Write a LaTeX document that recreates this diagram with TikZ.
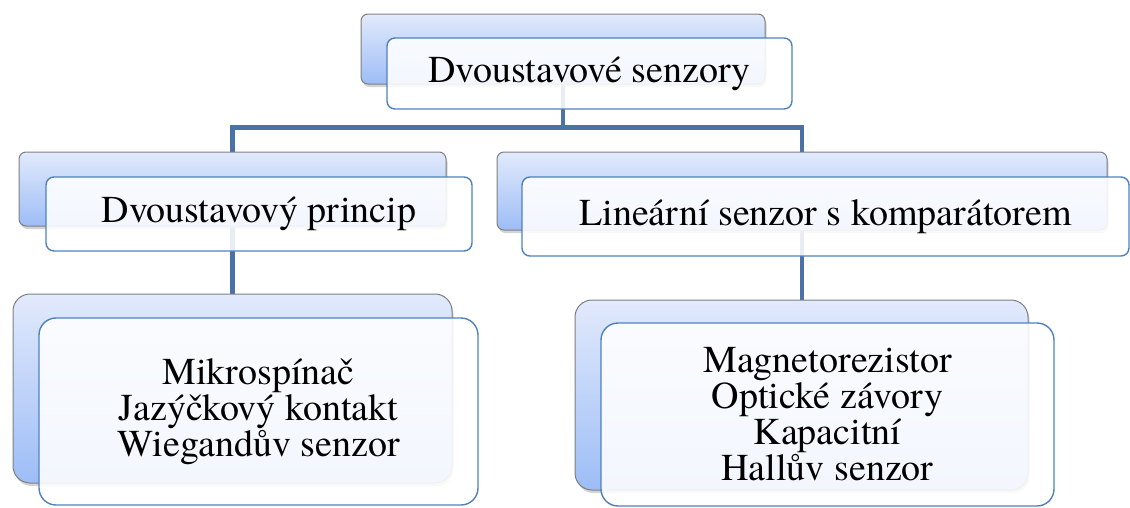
\documentclass[tikz,border=0pt]{standalone}
\usepackage{fontspec}
\setmainfont{texgyretermes-regular.otf}
\usetikzlibrary{shadows}
\pgfdeclarelayer{bg}
\pgfsetlayers{bg,main}
\definecolor{connblue}{HTML}{4A72A8}
\definecolor{frontedge}{HTML}{4F81BD}
\definecolor{backedge}{HTML}{7F7F7F}
\definecolor{backtop}{HTML}{E2EAFC}
\definecolor{backbot}{HTML}{9DBDF6}
\tikzset{
  backbox/.style={rectangle, rounded corners=7pt, draw=backedge, line width=1pt,
    top color=backtop, bottom color=backbot, inner sep=0pt,
    drop shadow={opacity=0.35, shadow xshift=1.5pt, shadow yshift=-3pt}},
  frontbox/.style={rectangle, rounded corners=8pt, draw=frontedge, line width=1.4pt,
    fill=white, fill opacity=0.88, text opacity=1, inner sep=0pt, align=center,
    font=\fontsize{38}{36}\selectfont},
  tall/.style={rounded corners=17pt},
  conn/.style={draw=connblue, line width=4.5pt}
}
\begin{document}
\begin{tikzpicture}[x=1pt, y=-1pt]
\useasboundingbox (0,0) rectangle (1130,507);
% top level
\node[backbox, minimum width=404pt, minimum height=70pt] (topB) at (563,49) {};
\node[frontbox, minimum width=405pt, minimum height=71pt] (topF) at (589.5,73.5) {Dvoustavové senzory};
% second level
\node[backbox, minimum width=427pt, minimum height=74pt] (leftB) at (232.5,189) {};
\node[frontbox, minimum width=426pt, minimum height=74pt] (leftF) at (259,214) {Dvoustavový princip};
\node[backbox, minimum width=610pt, minimum height=78pt] (rightB) at (802,191) {};
\node[frontbox, minimum width=607pt, minimum height=79pt] (rightF) at (825.5,216.5) {Lineární senzor s komparátorem};
% third level
\node[backbox, tall, minimum width=439pt, minimum height=189pt] (blB) at (232.5,388.5) {};
\node[frontbox, tall, minimum width=439pt, minimum height=187pt] (blF) at (258.5,411.5)
  {Mikrospínač\\Jazýčkový kontakt\\Wiegandův senzor};
\node[backbox, tall, minimum width=453pt, minimum height=190pt] (brB) at (801.5,395) {};
\node[frontbox, tall, minimum width=453pt, minimum height=183pt] (brF) at (827.5,414.5)
  {Magnetorezistor\\Optické závory\\Kapacitní\\Hallův senzor};
% connectors behind the boxes
\begin{pgfonlayer}{bg}
  \draw[conn] (topB.south) -- ++(0,43) -| (leftB.north);
  \draw[conn] (topB.south) -- ++(0,43) -| (rightB.north);
  \draw[conn] (leftB.south) -- (leftB.south |- blB.north);
  \draw[conn] (rightB.south) -- (rightB.south |- brB.north);
\end{pgfonlayer}
\end{tikzpicture}
\end{document}
